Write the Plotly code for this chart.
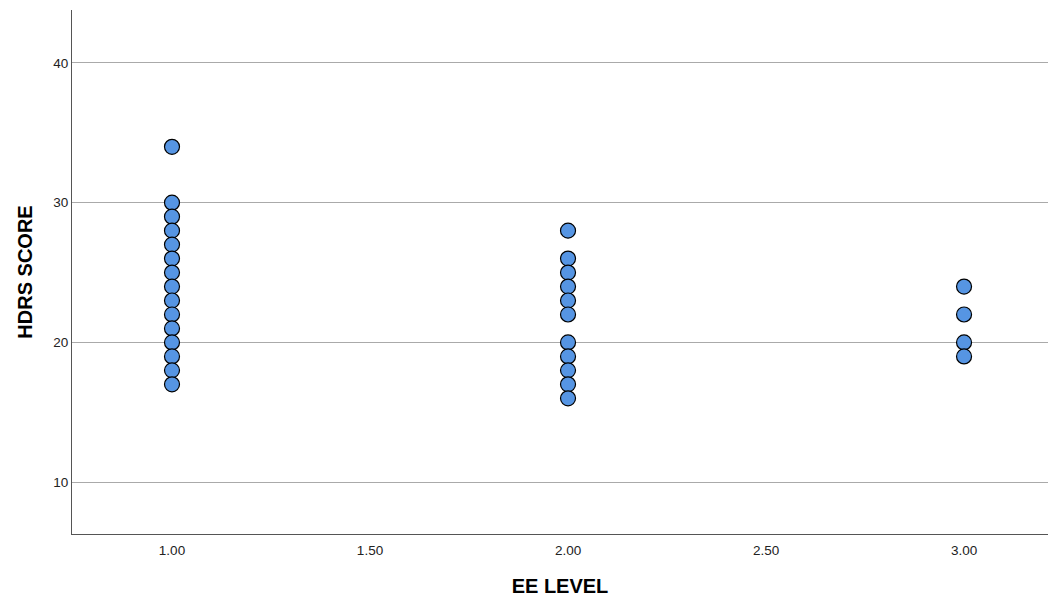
import plotly.graph_objects as go

ee_level = [1.0]*15 + [2.0]*11 + [3.0]*4
hdrs_score = [34, 30, 29, 28, 27, 26, 25, 24, 23, 22, 21, 20, 19, 18, 17,
              28, 26, 25, 24, 23, 22, 20, 19, 18, 17, 16,
              24, 22, 20, 19]
x_ticks = [1.0, 1.5, 2.0, 2.5, 3.0]
x_tick_labels = ["1.00", "1.50", "2.00", "2.50", "3.00"]
y_ticks = [10, 20, 30, 40]

fig = go.Figure()
fig.add_trace(go.Scatter(
    x=ee_level, y=hdrs_score, mode="markers",
    marker=dict(size=15, color="rgb(86,149,227)", line=dict(color="black", width=1.2)),
    showlegend=False, cliponaxis=False,
))

font = "Liberation Sans, Arial, sans-serif"
fig.update_layout(
    width=1040, height=591,
    margin=dict(l=64, r=0, t=2, b=65),
    plot_bgcolor="white", paper_bgcolor="white",
    font=dict(family=font, size=13.5, color="#222"),
)
fig.update_xaxes(
    range=[0.7475, 3.212], tickvals=x_ticks, ticktext=x_tick_labels,
    showgrid=False, zeroline=False, showline=True, linecolor="#555", linewidth=1,
    ticks="", ticklen=0, ticklabelstandoff=4,
    title=dict(text="<b>EE LEVEL</b>", font=dict(size=20, color="black", family=font), standoff=21),
)
fig.update_yaxes(
    range=[6.29, 43.79], tickvals=y_ticks,
    showgrid=True, gridcolor="#aaaaaa", gridwidth=1, zeroline=False,
    showline=True, linecolor="#555", linewidth=1, ticks="",
    title=dict(text="<b>HDRS SCORE</b>", font=dict(size=20, color="black", family=font), standoff=15),
)
fig.write_html("out.html")
